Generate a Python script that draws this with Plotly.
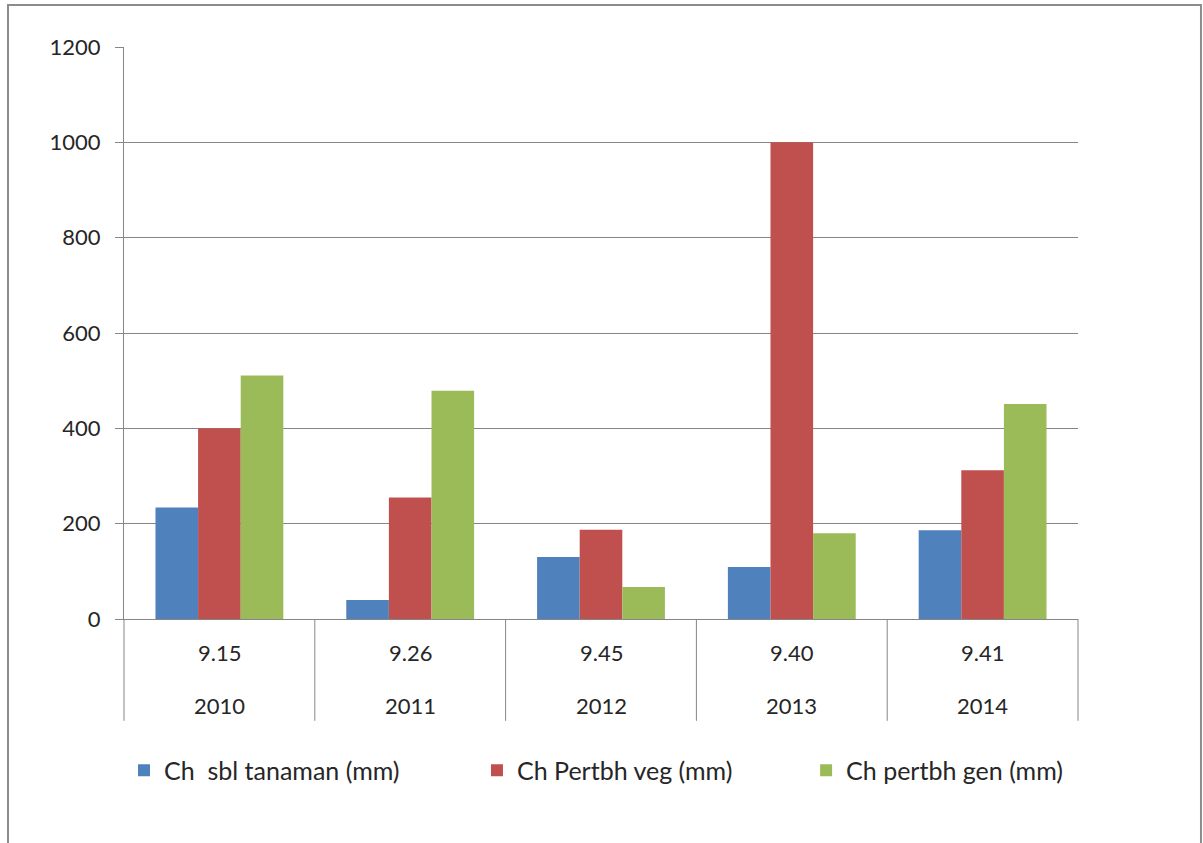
import plotly.graph_objects as go

# Category table: year (outer row) and index value (inner row)
years = ["2010", "2011", "2012", "2013", "2014"]
index_values = ["9.15", "9.26", "9.45", "9.40", "9.41"]

# Rainfall per growth phase (mm)
ch_sbl_tanaman = [234, 40, 130, 109, 186]
ch_pertbh_veg = [400, 255, 187, 1000, 312]
ch_pertbh_gen = [511, 479, 67, 180, 451]

series_names = ["Ch\u00a0 sbl tanaman (mm)", "Ch Pertbh veg (mm)", "Ch pertbh gen (mm)"]
series_colors = ["#4F81BD", "#C0504D", "#9BBB59"]

FONT = "Lato"
TEXT = "#262626"
GRID = "#868686"

fig = go.Figure()
for name, vals, color, lg in zip(series_names,
                                 [ch_sbl_tanaman, ch_pertbh_veg, ch_pertbh_gen],
                                 series_colors,
                                 ["legend", "legend2", "legend3"]):
    fig.add_trace(go.Bar(x=years, y=vals, name=name, legend=lg, showlegend=True,
                         marker=dict(color=color, line=dict(width=0))))

# Two-row category labels under the axis (category index positions)
for i, (yr, iv) in enumerate(zip(years, index_values)):
    fig.add_annotation(x=i, xref="x", y=-0.0594, yref="paper", text=iv,
                       showarrow=False, yanchor="middle",
                       font=dict(family=FONT, size=22, color=TEXT))
    fig.add_annotation(x=i, xref="x", y=-0.152, yref="paper", text=yr,
                       showarrow=False, yanchor="middle",
                       font=dict(family=FONT, size=22, color=TEXT))

# Vertical dividers between categories
for i in range(1, len(years)):
    fig.add_shape(type="line", xref="x", yref="paper", x0=i - 0.5, x1=i - 0.5,
                  y0=0, y1=-0.178, line=dict(color=GRID, width=1))
for xp in (0, 1):
    fig.add_shape(type="line", xref="paper", yref="paper", x0=xp, x1=xp,
                  y0=0, y1=-0.178, line=dict(color=GRID, width=1))

# Outer chart frame
fig.add_shape(type="rect", xref="paper", yref="paper",
              x0=-0.1216, x1=1.1289, y0=1.0734, y1=-0.45,
              line=dict(color="#8c8c8c", width=2), fillcolor="rgba(0,0,0,0)")

legend_style = dict(orientation="h", yanchor="middle", xanchor="left",
                    y=-0.265, font=dict(family=FONT, size=25, color=TEXT),
                    bgcolor="rgba(0,0,0,0)", itemwidth=30)
fig.update_layout(
    width=1203, height=843,
    margin=dict(l=124, r=125, t=47, b=224),
    paper_bgcolor="white", plot_bgcolor="white",
    barmode="group", bargap=0.33, bargroupgap=0,
    font=dict(family=FONT, size=22, color=TEXT),
    showlegend=True,
    legend=dict(legend_style, x=0.0),
    legend2=dict(legend_style, x=0.37),
    legend3=dict(legend_style, x=0.715),
    xaxis=dict(type="category", showticklabels=False, ticks="",
               showline=True, linecolor=GRID, linewidth=1,
               range=[-0.5, 4.5], showgrid=False),
    yaxis=dict(range=[0, 1200], dtick=200, tick0=0,
               showgrid=True, gridcolor=GRID, gridwidth=1,
               showline=True, linecolor=GRID, linewidth=1,
               ticks="outside", ticklen=8, tickcolor=GRID,
               ticklabelstandoff=10, zeroline=False,
               tickfont=dict(family=FONT, size=22, color=TEXT)),
)

fig.write_html("out.html")
